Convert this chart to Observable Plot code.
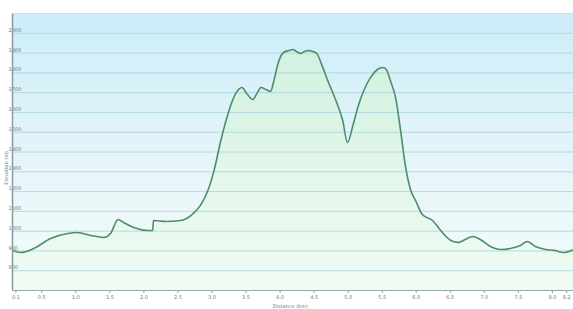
<!DOCTYPE html>
<html>
<head>
<meta charset="utf-8">
<script src="https://cdn.jsdelivr.net/npm/d3@7"></script>
<script src="https://cdn.jsdelivr.net/npm/@observablehq/plot@0.6"></script>
<style>
  html, body { margin: 0; padding: 0; background: #fff; }
  svg { display: block; }
</style>
</head>
<body>
<div id="chart"></div>
<script>
// Distance (km)
const distance = [0.075,0.19,0.38,0.63,0.88,1.03,1.22,1.41,1.51,1.62,1.70,1.85,2.06,2.13,2.14,2.32,2.54,2.69,2.83,2.94,3.03,3.13,3.25,3.35,3.44,3.51,3.60,3.66,3.72,3.79,3.86,3.91,3.97,4.05,4.13,4.19,4.24,4.30,4.36,4.42,4.48,4.54,4.60,4.70,4.82,4.92,4.99,5.07,5.15,5.23,5.33,5.43,5.51,5.56,5.62,5.70,5.77,5.84,5.92,5.99,6.09,6.24,6.36,6.51,6.62,6.72,6.83,6.94,7.09,7.24,7.38,7.53,7.63,7.75,7.90,8.04,8.16,8.31];
// Elevation (m)
const elevation = [902,892,912,963,988,993,978,968,988,1059,1044,1018,1003,1003,1054,1049,1054,1079,1130,1205,1306,1458,1610,1696,1726,1696,1665,1696,1726,1716,1706,1761,1847,1903,1913,1918,1908,1898,1908,1913,1908,1898,1852,1761,1660,1559,1448,1534,1635,1711,1777,1817,1827,1817,1761,1670,1509,1332,1205,1155,1084,1054,1003,953,943,958,973,958,922,907,912,927,948,922,907,902,892,907];
const xTicks = [0.12,0.5,1.0,1.5,2.0,2.5,3.0,3.5,4.0,4.5,5.0,5.5,6.0,6.5,7.0,7.5,8.0,8.21];
const yTicks = [800,900,1000,1100,1200,1300,1400,1500,1600,1700,1800,1900,2000];
const xTitle = "Distance (km)";
const yTitle = "Elevation (m)";

const data = distance.map((d, i) => ({d, e: elevation[i]}));
const Y0 = 700, Y1 = 2100;

const plot = Plot.plot({
  width: 573,
  height: 309,
  marginTop: 13,
  marginBottom: 19,
  marginLeft: 12,
  marginRight: 0,
  style: {fontFamily: "DejaVu Sans, sans-serif", background: "#fff"},
  x: {domain: [0.07, 8.31], label: null},
  y: {domain: [Y0, Y1], label: null},
  marks: [
    Plot.frame({fill: "url(#bgGrad)", stroke: null}),
    Plot.areaY(data, {x: "d", y1: Y0, y2: "e", fill: "url(#areaGrad)", curve: "monotone-x"}),
    Plot.gridY(yTicks, {stroke: "#add3dc", strokeOpacity: 0.85, strokeWidth: 1}),
    Plot.lineY(data, {x: "d", y: "e", stroke: "#4f8c6e", strokeWidth: 1.6, curve: "monotone-x"}),
    Plot.axisY(yTicks, {anchor: "left", tickSize: 0, textAnchor: "start", dx: 5, dy: -3, fontSize: 5, fill: "#6a7a80", tickFormat: d => String(d)}),
    Plot.axisX(xTicks, {anchor: "bottom", tickSize: 3, tickPadding: 2, fontSize: 5, fill: "#6a7a80", stroke: "#8a9a9a", tickFormat: d => d.toFixed(1)}),
    Plot.ruleX([0.07], {stroke: "#8c9a9e", strokeWidth: 1.5}),
    Plot.ruleY([Y0], {stroke: "#9aa8a8", strokeWidth: 1}),
    Plot.ruleY([Y1], {stroke: "#c8dfe6", strokeWidth: 1}),
    Plot.text([xTitle], {frameAnchor: "bottom", dy: 17, x: 4.15, fontSize: 5, fill: "#6a7a80"}),
    Plot.text([yTitle], {x: 0.07, y: 1320, dx: -6, rotate: -90, fontSize: 5, fill: "#6a7a80"})
  ]
});

const svg = d3.select(plot);
const defs = svg.insert("defs", ":first-child");
const bg = defs.append("linearGradient").attr("id", "bgGrad").attr("x1", 0).attr("y1", 0).attr("x2", 0).attr("y2", 1);
bg.append("stop").attr("offset", "0%").attr("stop-color", "#cdedf8");
bg.append("stop").attr("offset", "55%").attr("stop-color", "#e6f5f9");
bg.append("stop").attr("offset", "100%").attr("stop-color", "#f5fcf9");
const ag = defs.append("linearGradient").attr("id", "areaGrad").attr("x1", 0).attr("y1", 0).attr("x2", 0).attr("y2", 1);
ag.append("stop").attr("offset", "0%").attr("stop-color", "#d2f1df");
ag.append("stop").attr("offset", "100%").attr("stop-color", "#f1fbf4");

document.getElementById("chart").appendChild(plot);
</script>
</body>
</html>
